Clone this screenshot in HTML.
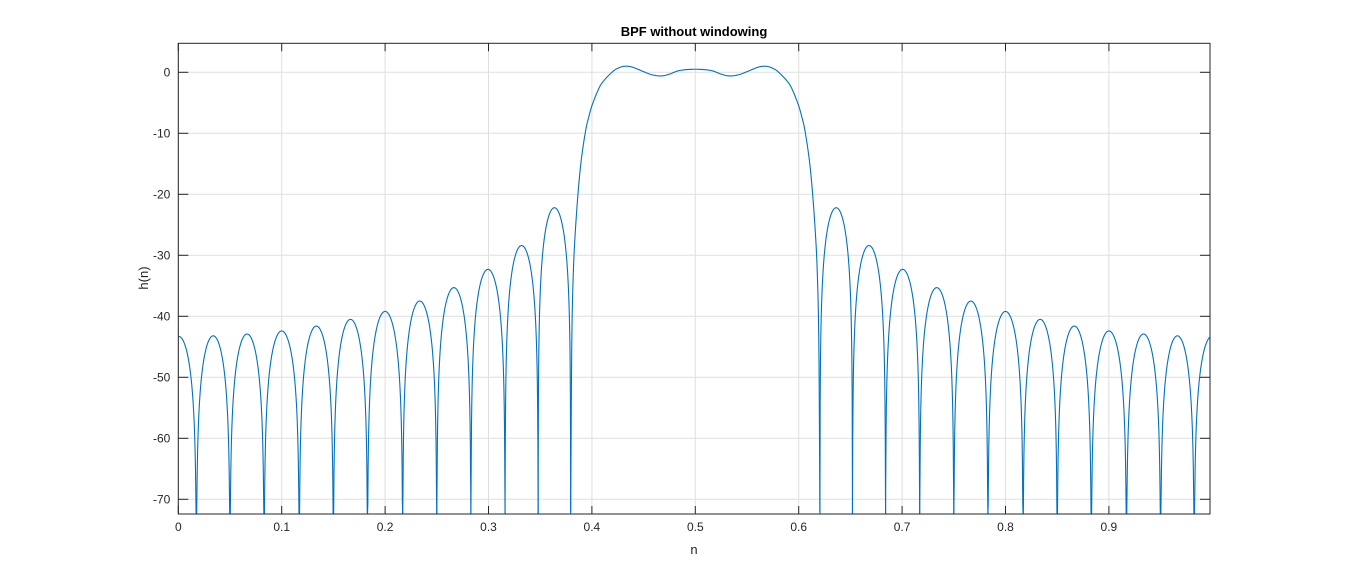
<!DOCTYPE html>
<html><head><meta charset="utf-8"><style>
html,body{margin:0;padding:0;background:#fff;width:1366px;height:579px;overflow:hidden}
text{font-family:"Liberation Sans",sans-serif}
</style></head><body>
<svg id="chart" width="1366" height="579" xmlns="http://www.w3.org/2000/svg">
<rect x="0" y="0" width="1366" height="579" fill="#fff"/>
<g id="grid"></g>
<g id="curve"></g>
<g id="axes"></g>
<text x="694" y="36" text-anchor="middle" font-size="13" font-weight="bold" fill="#000">BPF without windowing</text>
<text x="694" y="554" text-anchor="middle" font-size="13" fill="#262626">n</text>
<text transform="translate(148,278) rotate(-90)" text-anchor="middle" font-size="13" fill="#262626">h(n)</text>
</svg>
<script>
const xTicks=[0,0.1,0.2,0.3,0.4,0.5,0.6,0.7,0.8,0.9];
const xTickLabels=["0","0.1","0.2","0.3","0.4","0.5","0.6","0.7","0.8","0.9"];
const yTicks=[0,-10,-20,-30,-40,-50,-60,-70];
const yTickLabels=["0","-10","-20","-30","-40","-50","-60","-70"];
const leftNulls=[-0.0167,0.0175,0.05,0.083,0.117,0.15,0.183,0.217,0.25,0.283,0.316,0.348,0.3795];
const leftPeaks=[-43.3,-43.2,-42.9,-42.4,-41.6,-40.5,-39.2,-37.5,-35.3,-32.3,-28.4,-22.2];
const rightNulls=[0.6205,0.652,0.684,0.717,0.75,0.783,0.817,0.85,0.883,0.917,0.95,0.9825,1.0167];
const rightPeaks=[-22.2,-28.4,-32.3,-35.3,-37.5,-39.2,-40.5,-41.6,-42.4,-42.9,-43.2,-43.3];
const passN=[0.3795,0.3805,0.382,0.384,0.387,0.39,0.394,0.397,0.4,0.405,0.41,0.42,0.427,0.433,0.44,0.45,0.458,0.467,0.475,0.485,0.5,0.515,0.525,0.533,0.542,0.55,0.56,0.567,0.573,0.58,0.59,0.595,0.6,0.603,0.606,0.61,0.613,0.616,0.618,0.6195,0.6205];
const passDb=[-72,-45,-33,-26,-19,-14,-9.5,-7.3,-5.5,-3.3,-1.7,0.1,0.8,1.0,0.8,0.1,-0.4,-0.6,-0.3,0.3,0.5,0.3,-0.3,-0.6,-0.4,0.1,0.8,1.0,0.8,0.1,-1.7,-3.3,-5.5,-7.3,-9.5,-14,-19,-26,-33,-45,-72];
const X0=178.3,X1=1210,Y0=43.3,Y1=514,YMIN=-72.4,XMAX=(1210-178.3)/1034;
function sx(v){return X0+v*1034;}
function sy(v){return 72.3-6.1*v;}
const NS="http://www.w3.org/2000/svg";
function mk(t,a,p){const e=document.createElementNS(NS,t);for(const k in a)e.setAttribute(k,a[k]);p.appendChild(e);return e;}
const grid=document.getElementById('grid'),axes=document.getElementById('axes'),curve=document.getElementById('curve');
xTicks.forEach((v,i)=>{
 const g=mk('line',{x1:sx(v),x2:sx(v),y1:Y0,y2:Y1,stroke:'#dfdfdf','stroke-width':1},grid);
 
 
 mk('line',{x1:sx(v),x2:sx(v),y1:Y1,y2:Y1-8,stroke:'#262626'},axes);
 mk('line',{x1:sx(v),x2:sx(v),y1:Y0,y2:Y0+8,stroke:'#262626'},axes);
 const t=mk('text',{x:sx(v),y:Y1+17,'text-anchor':'middle','font-size':12,fill:'#262626'},axes);
 t.textContent=xTickLabels[i];
 
 
});
yTicks.forEach((v,i)=>{
 const g=mk('line',{x1:X0,x2:X1,y1:sy(v),y2:sy(v),stroke:'#dfdfdf','stroke-width':1},grid);
 
 
 mk('line',{x1:X0,x2:X0+10,y1:sy(v),y2:sy(v),stroke:'#262626'},axes);
 mk('line',{x1:X1,x2:X1-10,y1:sy(v),y2:sy(v),stroke:'#262626'},axes);
 const t=mk('text',{x:X0-8,y:sy(v)+4,'text-anchor':'end','font-size':12,fill:'#262626'},axes);
 t.textContent=yTickLabels[i];
 
 
});
const box=mk('rect',{x:X0,y:Y0,width:X1-X0,height:Y1-Y0,fill:'none',stroke:'#262626'},axes);


function clampDb(d){return Math.max(YMIN,d);}
function lobes(nulls,peaks){
 for(let i=0;i<peaks.length;i++){
  const a=nulls[i],b=nulls[i+1];let pts=[];
  for(let k=0;k<=120;k++){const t=k/120;const n=a+(b-a)*t;if(n<0||n>XMAX)continue;
   const s=Math.sin(Math.PI*t);const d=s<=1e-6?YMIN:clampDb(peaks[i]+20*Math.log10(s));
   pts.push(sx(n).toFixed(2)+','+sy(d).toFixed(2));}
  const p=mk('polyline',{points:pts.join(' '),fill:'none',stroke:'#0072bd','stroke-width':1.1},curve);
  
  
 }
}
lobes(leftNulls,leftPeaks);lobes(rightNulls,rightPeaks);
let pp=[];
for(let i=0;i<passN.length-1;i++){
 const p0=i>0?i-1:i,p3=i+2<passN.length?i+2:i+1;
 for(let k=0;k<10;k++){const t=k/10;
  const c=(f)=>{const v0=f[p0],v1=f[i],v2=f[i+1],v3=f[p3];return 0.5*((2*v1)+(-v0+v2)*t+(2*v0-5*v1+4*v2-v3)*t*t+(-v0+3*v1-3*v2+v3)*t*t*t);};
  pp.push(sx(c(passN)).toFixed(2)+','+sy(clampDb(c(passDb))).toFixed(2));}
}
pp.push(sx(passN[passN.length-1])+','+sy(clampDb(passDb[passDb.length-1])));
const pb=mk('polyline',{points:pp.join(' '),fill:'none',stroke:'#0072bd','stroke-width':1.1},curve);


</script>
</body></html>
